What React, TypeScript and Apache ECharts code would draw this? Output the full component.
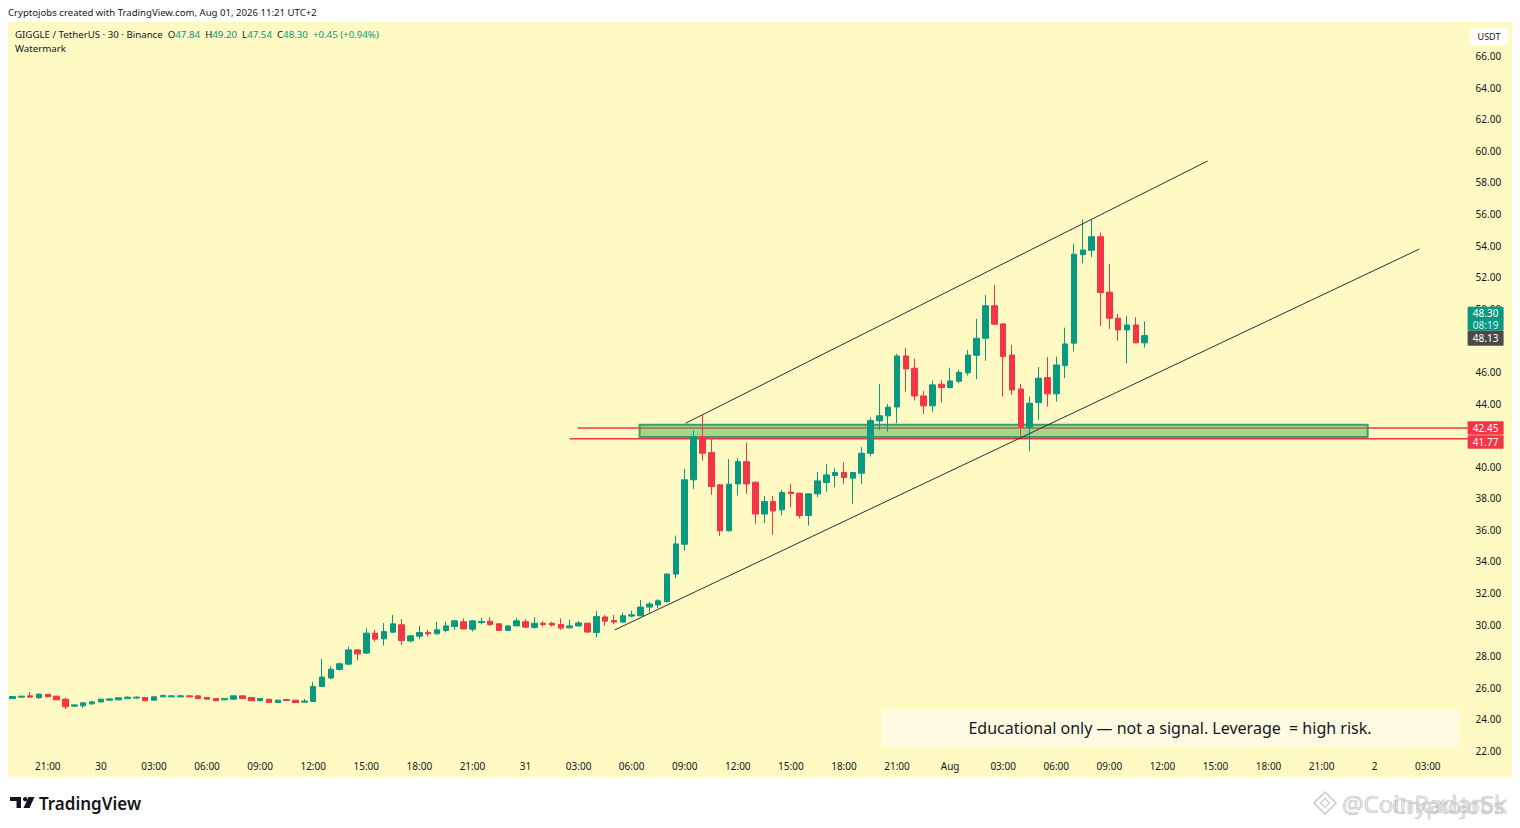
import React, { useEffect, useRef } from "react";
import * as echarts from "echarts";

// ---------- data ----------
const START_UTC = Date.UTC(2026, 6, 29, 19, 0); // first 30-min bar: Jul 29 19:00 (UTC+2 display time)
const SLOT_COUNT = 165; // bars + empty future slots up to Aug 2 ~05:00
const HALF_HOUR_MS = 30 * 60 * 1000;

const CATEGORIES: string[] = Array.from({ length: SLOT_COUNT }, (_, i) => {
  const d = new Date(START_UTC + i * HALF_HOUR_MS);
  const p = (n: number) => String(n).padStart(2, "0");
  return `${p(d.getUTCMonth() + 1)}-${p(d.getUTCDate())} ${p(d.getUTCHours())}:${p(d.getUTCMinutes())}`;
});

const DAY_LABELS: Record<string, string> = { "07-30": "30", "07-31": "31", "08-01": "Aug", "08-02": "2" };

// [open, high, low, close]
const CANDLES: number[][] = [
  [25.32, 25.48, 25.3, 25.45], [25.41, 25.5, 25.39, 25.47], [25.49, 25.73, 25.39, 25.41], [25.37, 25.64, 25.3, 25.6],
  [25.58, 25.62, 25.4, 25.43], [25.47, 25.5, 25.22, 25.24], [25.28, 25.37, 24.65, 24.8], [24.84, 24.97, 24.8, 24.92],
  [24.86, 25.07, 24.73, 25.05], [24.99, 25.19, 24.9, 25.11], [25.11, 25.32, 25.08, 25.28], [25.22, 25.32, 25.2, 25.3],
  [25.24, 25.39, 25.22, 25.37], [25.32, 25.45, 25.28, 25.41], [25.35, 25.45, 25.3, 25.41], [25.39, 25.41, 25.16, 25.18],
  [25.22, 25.45, 25.2, 25.43], [25.43, 25.58, 25.41, 25.51], [25.43, 25.52, 25.41, 25.49], [25.43, 25.56, 25.39, 25.49],
  [25.49, 25.53, 25.41, 25.43], [25.49, 25.51, 25.3, 25.32], [25.39, 25.41, 25.26, 25.28], [25.32, 25.34, 25.16, 25.18],
  [25.24, 25.34, 25.22, 25.32], [25.28, 25.51, 25.26, 25.49], [25.49, 25.51, 25.3, 25.32], [25.39, 25.41, 25.16, 25.18],
  [25.18, 25.34, 25.16, 25.32], [25.28, 25.3, 25.05, 25.07], [25.07, 25.24, 25.05, 25.22], [25.26, 25.28, 25.18, 25.2],
  [25.22, 25.24, 25.05, 25.07], [25.09, 25.3, 25.07, 25.16], [25.13, 26.38, 25.1, 26.08], [26.08, 27.83, 26.05, 26.68],
  [26.62, 27.37, 26.55, 27.18], [27.16, 27.6, 27.09, 27.52], [27.5, 28.61, 27.45, 28.4], [28.4, 28.45, 27.73, 28.15],
  [28.2, 29.78, 28.15, 29.46], [29.46, 29.67, 28.93, 29.08], [29.1, 30.09, 28.68, 29.56], [29.52, 30.62, 29.48, 30.05],
  [29.99, 30.35, 28.72, 28.99], [28.97, 29.32, 28.87, 29.29], [29.27, 29.92, 29.08, 29.5], [29.5, 29.67, 29.25, 29.42],
  [29.42, 30.18, 29.38, 29.67], [29.63, 30.18, 29.5, 29.92], [29.88, 30.3, 29.67, 30.24], [30.18, 30.39, 29.7, 29.73],
  [29.71, 30.28, 29.56, 30.24], [30.13, 30.43, 30.01, 30.2], [30.22, 30.47, 29.92, 30.01], [30.05, 30.09, 29.6, 29.63],
  [29.63, 29.97, 29.6, 29.92], [29.92, 30.41, 29.9, 30.24], [30.18, 30.35, 29.8, 29.84], [29.82, 30.47, 29.73, 30.09],
  [30.09, 30.22, 29.88, 30.01], [30.09, 30.18, 29.88, 29.97], [30.01, 30.39, 29.67, 29.78], [29.8, 30.3, 29.75, 29.92],
  [29.92, 30.22, 29.9, 30.11], [30.09, 30.13, 29.5, 29.53], [29.5, 30.87, 29.18, 30.51], [30.49, 30.62, 29.92, 30.22],
  [30.26, 30.62, 30.03, 30.16], [30.16, 30.77, 30.13, 30.56], [30.54, 30.89, 30.47, 30.62], [30.56, 31.57, 30.54, 31.11],
  [31.11, 31.44, 30.77, 31.3], [31.25, 31.61, 31.05, 31.51], [31.46, 33.25, 31.4, 33.2], [33.2, 35.64, 32.94, 35.11],
  [35.09, 39.86, 34.67, 39.17], [39.17, 42.29, 38.58, 41.91], [41.91, 43.28, 40.37, 40.85], [40.89, 41.74, 38.22, 38.74],
  [38.85, 38.9, 35.62, 35.94], [35.94, 40.48, 35.9, 38.89], [38.91, 40.54, 38.17, 40.32], [40.32, 41.53, 38.28, 38.91],
  [39.02, 39.06, 36.38, 37.0], [37.0, 38.15, 36.43, 37.79], [37.79, 38.15, 35.68, 37.2], [37.27, 38.53, 36.91, 38.36],
  [38.39, 38.89, 37.44, 38.3], [38.32, 38.36, 36.74, 36.91], [36.91, 38.32, 36.27, 38.28], [38.28, 39.67, 38.07, 39.1],
  [39.0, 40.18, 38.42, 39.48], [39.44, 39.91, 38.7, 39.63], [39.63, 40.28, 38.91, 39.31], [39.27, 39.67, 37.65, 39.63],
  [39.59, 41.23, 38.91, 40.85], [40.85, 43.13, 40.64, 42.92], [42.9, 45.24, 42.33, 43.22], [43.22, 43.97, 42.22, 43.77],
  [43.78, 47.14, 42.75, 47.01], [47.01, 47.5, 44.75, 46.19], [46.23, 46.84, 44.18, 44.48], [44.48, 44.8, 43.34, 43.85],
  [43.85, 45.45, 43.45, 45.18], [45.22, 45.49, 44.06, 45.01], [45.01, 46.27, 44.95, 45.43], [45.41, 46.13, 45.3, 45.96],
  [45.94, 47.39, 45.77, 47.07], [47.05, 49.35, 45.54, 48.13], [48.13, 50.87, 46.71, 50.19], [50.19, 51.51, 48.97, 49.02],
  [49.04, 49.08, 44.44, 46.97], [47.07, 47.71, 44.54, 44.86], [44.92, 45.24, 41.95, 42.5], [42.5, 44.44, 40.96, 44.02],
  [44.06, 46.3, 42.96, 45.6], [45.64, 46.93, 43.8, 44.61], [44.61, 46.97, 44.12, 46.44], [46.4, 48.8, 45.6, 47.77],
  [47.82, 54.1, 47.29, 53.45], [53.42, 55.66, 52.88, 53.72], [53.7, 55.62, 53.26, 54.56], [54.56, 54.82, 48.91, 51.02],
  [51.05, 52.83, 48.72, 49.4], [49.4, 49.67, 47.98, 48.66], [48.66, 49.56, 46.55, 48.97], [48.97, 49.46, 47.82, 47.84],
  [47.84, 49.2, 47.54, 48.3],
];

// drawings: [barIndex, price]
const UPPER_CHANNEL: number[][] = [[76.1, 42.75], [135.1, 59.35]];
const LOWER_CHANNEL: number[][] = [[68.1, 29.67], [159.05, 53.78]];
const ZONE: number[] = [70.9, 42.65, 153.2, 41.88]; // x1, top, x2, bottom
const LEVEL_PRICES: number[] = [42.45, 41.77];
const LEVEL_STARTS: number[] = [63.9, 63.0];

const LAST_PRICE = 48.3;
const COUNTDOWN = "08:19";
const REF_PRICE = 48.13;

const Y_MIN = 22;
const Y_MAX = 66;
const Y_STEP = 2;
const HIDDEN_TICKS: number[] = [42]; // fully covered by the level badges

const FONT = '"Noto Sans", "Liberation Sans", sans-serif';
const TXT = "#131722";
const UP = "#089981";
const DOWN = "#f23645";

export default function App() {
  const ref = useRef<HTMLDivElement>(null);

  useEffect(() => {
    const el = ref.current;
    if (!el) return;
    const chart = echarts.init(el, undefined, { renderer: "svg" });

    const candleData = CANDLES.map(([o, h, l, c]) => [o, c, l, h]);

    chart.setOption({
      animation: false,
      backgroundColor: "transparent",
      grid: { left: 8, right: 52.4, top: 56, bottom: 77, containLabel: false },
      xAxis: [
        {
          type: "category",
          data: CATEGORIES,
          boundaryGap: true,
          axisLine: { show: false },
          axisTick: { show: false },
          splitLine: { show: false },
          axisLabel: {
            interval: (index: number) => index % 6 === 4,
            color: TXT,
            fontSize: 10,
            fontFamily: FONT,
            margin: 10,
            formatter: (v: string) => {
              const [md, hm] = v.split(" ");
              if (hm === "00:00") return DAY_LABELS[md] ?? md;
              return hm;
            },
          },
        },
        { type: "value", min: -0.5, max: SLOT_COUNT - 0.5, show: false },
      ],
      yAxis: {
        type: "value",
        position: "right",
        min: Y_MIN,
        max: Y_MAX,
        interval: Y_STEP,
        axisLine: { show: false },
        axisTick: { show: false },
        splitLine: { show: false },
        axisLabel: {
          color: TXT,
          fontSize: 10,
          fontFamily: FONT,
          margin: 8,
          formatter: (v: number) => (HIDDEN_TICKS.includes(v) ? "" : v.toFixed(2)),
        },
      },
      series: [
        ...LEVEL_PRICES.map((p, i) => ({
          type: "line",
          xAxisIndex: 1,
          z: 2,
          silent: true,
          symbol: "none",
          data: [[LEVEL_STARTS[i], p], [SLOT_COUNT - 0.5, p]],
          lineStyle: { color: DOWN, width: 1.5 },
        })),
        {
          type: "custom",
          xAxisIndex: 1,
          z: 3,
          silent: true,
          encode: { x: [0, 2], y: [1, 3] },
          data: [ZONE],
          renderItem: (params: any, api: any) => {
            const a = api.coord([api.value(0), api.value(1)]);
            const b = api.coord([api.value(2), api.value(3)]);
            return {
              type: "rect",
              shape: { x: a[0], y: a[1], width: b[0] - a[0], height: b[1] - a[1] },
              style: { fill: "rgba(76,175,80,0.5)", stroke: "#3d9b6c", lineWidth: 2 },
            };
          },
        },
        {
          type: "candlestick",
          z: 4,
          barWidth: 6,
          data: candleData,
          itemStyle: {
            color: UP,
            color0: DOWN,
            borderColor: UP,
            borderColor0: DOWN,
            borderWidth: 1,
          },
        },
        ...[UPPER_CHANNEL, LOWER_CHANNEL].map((seg) => ({
          type: "line",
          xAxisIndex: 1,
          z: 5,
          silent: true,
          symbol: "none",
          data: seg,
          lineStyle: { color: "#2a2e39", width: 1 },
        })),
      ],
    });

    const py = (v: number) => chart.convertToPixel({ yAxisIndex: 0 }, v) as number;
    const boxX = 1467.6;
    const boxW = 36;

    const refH = 15;
    const refTop = py(REF_PRICE) - refH / 2;
    const lastH = 24;
    const lastTop = refTop - lastH;

    const lvH = 13.5;
    const lv1Top = py(LEVEL_PRICES[0]) - lvH / 2;
    const lv2Top = Math.max(lv1Top + lvH + 0.5, py(LEVEL_PRICES[1]) - lvH / 2);

    const labelText = (x: number, y: number, text: string, fill = "#ffffff", size = 10) => ({
      type: "text",
      z: 101,
      style: { x, y, text, fill, fontSize: size, fontFamily: FONT, align: "center", verticalAlign: "middle" },
    });

    chart.setOption({
      graphic: [
        // header
        {
          type: "text",
          z: 100,
          style: { x: 8, y: 12, text: "Cryptojobs created with TradingView.com, Aug 01, 2026 11:21 UTC+2", fill: TXT, fontSize: 9.6, fontFamily: FONT, verticalAlign: "middle" },
        },
        {
          type: "text",
          z: 100,
          style: {
            x: 15,
            y: 34,
            verticalAlign: "middle",
            text: "{d|GIGGLE / TetherUS · 30 · Binance}  {d|O}{g|47.84}  {d|H}{g|49.20}  {d|L}{g|47.54}  {d|C}{g|48.30}  {g|+0.45 (+0.94%)}",
            fontSize: 9.7,
            fontFamily: FONT,
            rich: {
              d: { fill: TXT, fontSize: 9.7, fontFamily: FONT },
              g: { fill: UP, fontSize: 9.7, fontFamily: FONT },
            },
          },
        },
        {
          type: "text",
          z: 100,
          style: { x: 15, y: 48, text: "Watermark", fill: TXT, fontSize: 9.7, fontFamily: FONT, verticalAlign: "middle" },
        },
        // USDT badge
        { type: "rect", z: 100, shape: { x: 1470, y: 28, width: 38, height: 17, r: 3 }, style: { fill: "#ffffff" } },
        labelText(1489, 36.5, "USDT", TXT, 9),
        // educational note
        { type: "rect", z: 100, shape: { x: 882, y: 710, width: 577, height: 36 }, style: { fill: "#fffbe3" } },
        {
          type: "text",
          z: 101,
          style: { x: 1170, y: 728, text: "Educational only — not a signal. Leverage  = high risk.", fill: TXT, fontSize: 16, fontFamily: FONT, align: "center", verticalAlign: "middle" },
        },
        // last price + countdown
        { type: "rect", z: 100, shape: { x: boxX, y: lastTop, width: boxW, height: lastH, r: 1 }, style: { fill: UP } },
        labelText(boxX + boxW / 2, lastTop + 6.5, LAST_PRICE.toFixed(2)),
        labelText(boxX + boxW / 2, lastTop + 18, COUNTDOWN, "#d8f3ec"),
        { type: "rect", z: 100, shape: { x: boxX, y: refTop, width: boxW, height: refH, r: 1 }, style: { fill: "#4a4a4a" } },
        labelText(boxX + boxW / 2, refTop + refH / 2, REF_PRICE.toFixed(2)),
        // zone levels
        { type: "rect", z: 100, shape: { x: boxX, y: lv1Top, width: boxW, height: lvH, r: 1 }, style: { fill: DOWN } },
        labelText(boxX + boxW / 2, lv1Top + lvH / 2, LEVEL_PRICES[0].toFixed(2)),
        { type: "rect", z: 100, shape: { x: boxX, y: lv2Top, width: boxW, height: lvH, r: 1 }, style: { fill: DOWN } },
        labelText(boxX + boxW / 2, lv2Top + lvH / 2, LEVEL_PRICES[1].toFixed(2)),
        // TradingView logo
        { type: "rect", z: 100, shape: { x: 10, y: 797, width: 11, height: 4 }, style: { fill: TXT } },
        { type: "rect", z: 100, shape: { x: 16.5, y: 797, width: 4.5, height: 11 }, style: { fill: TXT } },
        { type: "circle", z: 100, shape: { cx: 25.2, cy: 799.2, r: 2.2 }, style: { fill: TXT } },
        { type: "polygon", z: 100, shape: { points: [[28.5, 797], [34.5, 797], [29.5, 808], [23.5, 808]] }, style: { fill: TXT } },
        {
          type: "text",
          z: 100,
          style: { x: 39, y: 803, text: "TradingView", fill: TXT, fontSize: 17, fontWeight: 600, fontFamily: FONT, verticalAlign: "middle" },
        },
        // watermark bottom-right
        { type: "polygon", z: 100, shape: { points: [[1325, 792], [1336, 803], [1325, 814], [1314, 803]] }, style: { fill: "none", stroke: "#c8c8c8", lineWidth: 1.5 } },
        { type: "polygon", z: 100, shape: { points: [[1325, 798.5], [1329.5, 803], [1325, 807.5], [1320.5, 803]] }, style: { fill: "none", stroke: "#c8c8c8", lineWidth: 1.2 } },
        {
          type: "text",
          z: 100,
          style: { x: 1392, y: 805, text: "Cryptojobs", fill: "rgba(205,205,205,0.55)", stroke: "rgba(170,170,170,0.6)", lineWidth: 0.6, fontSize: 22, fontFamily: FONT, verticalAlign: "middle" },
        },
        {
          type: "text",
          z: 100,
          style: { x: 1342, y: 803, text: "@CoinRadarSk", fill: "rgba(215,215,215,0.55)", stroke: "rgba(160,160,160,0.7)", lineWidth: 0.7, fontSize: 24, fontFamily: FONT, verticalAlign: "middle" },
        },
      ],
    });

    return () => chart.dispose();
  }, []);

  return (
    <div style={{ position: "fixed", left: 0, top: 0, width: 1520, height: 828, background: "#ffffff" }}>
      <div style={{ position: "absolute", left: 8, top: 22, width: 1504, height: 755, background: "#fff9c4" }} />
      <div ref={ref} style={{ position: "absolute", left: 0, top: 0, width: 1520, height: 828 }} />
    </div>
  );
}
